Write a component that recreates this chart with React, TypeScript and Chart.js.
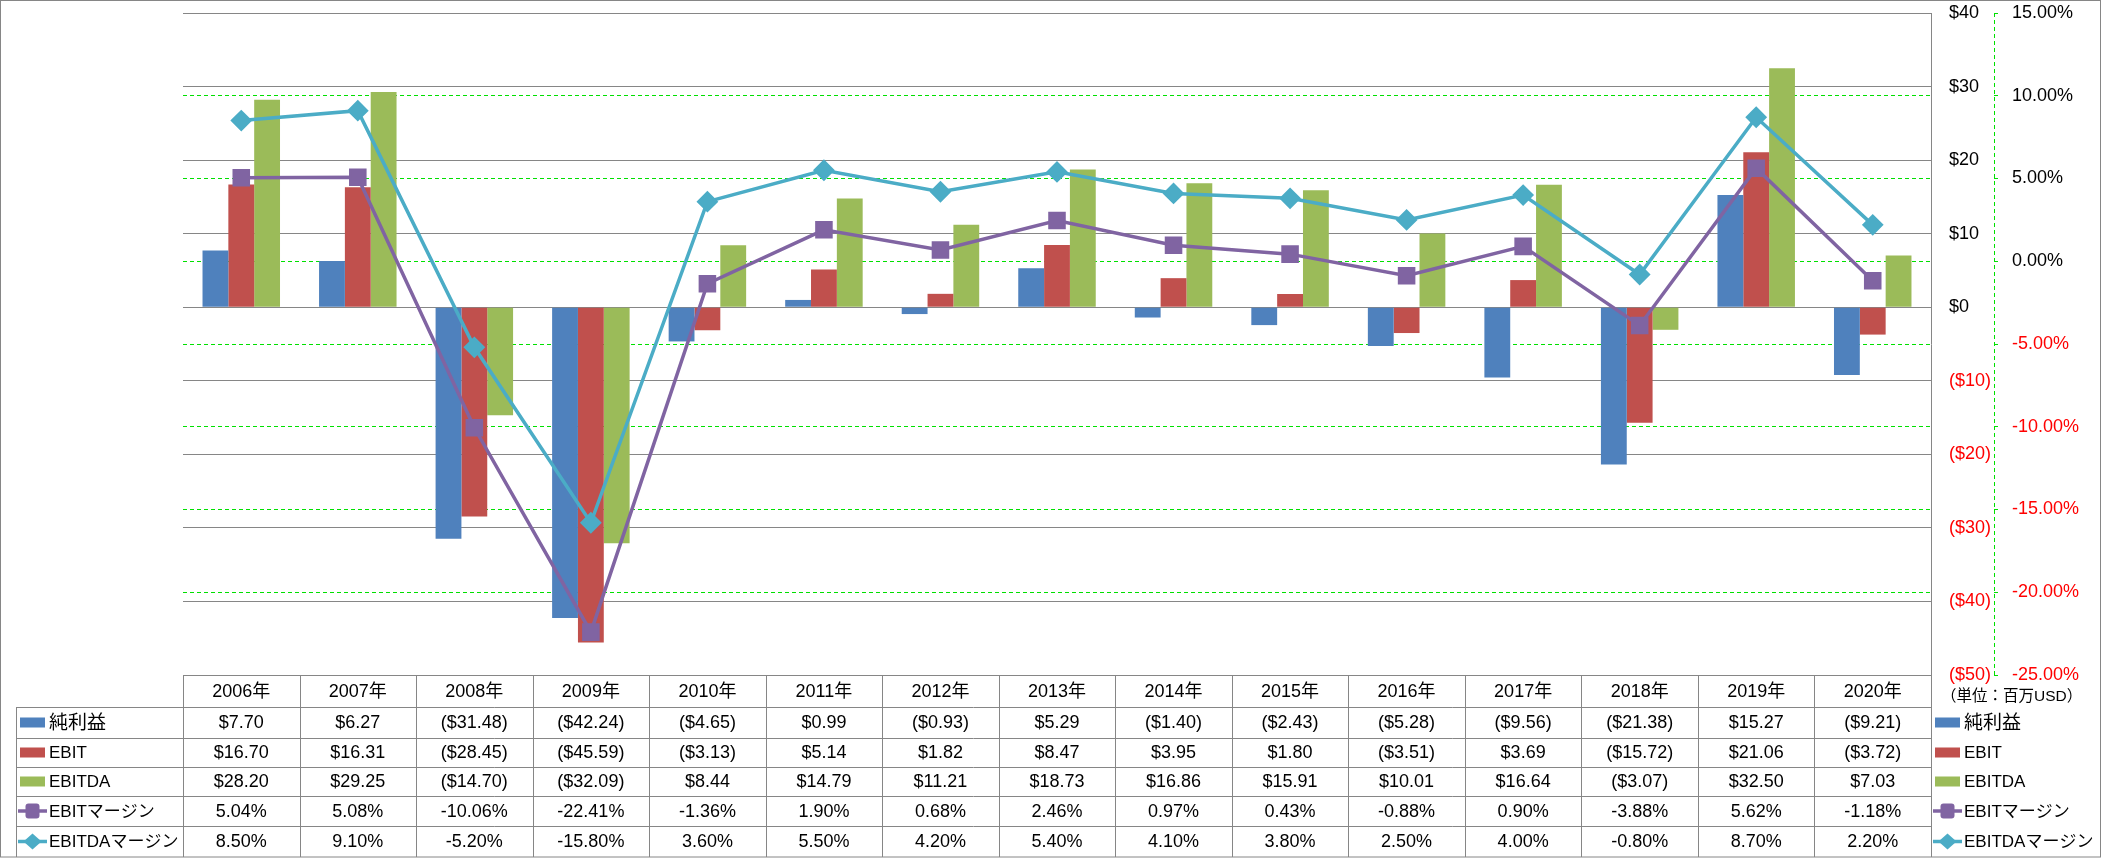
import React, { useEffect, useRef } from 'react';
import { Chart, registerables } from 'chart.js';

Chart.register(...registerables);

const categories = ['2006年', '2007年', '2008年', '2009年', '2010年', '2011年', '2012年', '2013年', '2014年', '2015年', '2016年', '2017年', '2018年', '2019年', '2020年'];
const netIncome = [7.70, 6.27, -31.48, -42.24, -4.65, 0.99, -0.93, 5.29, -1.40, -2.43, -5.28, -9.56, -21.38, 15.27, -9.21];
const ebit = [16.70, 16.31, -28.45, -45.59, -3.13, 5.14, 1.82, 8.47, 3.95, 1.80, -3.51, 3.69, -15.72, 21.06, -3.72];
const ebitda = [28.20, 29.25, -14.70, -32.09, 8.44, 14.79, 11.21, 18.73, 16.86, 15.91, 10.01, 16.64, -3.07, 32.50, 7.03];
const ebitMargin = [5.04, 5.08, -10.06, -22.41, -1.36, 1.90, 0.68, 2.46, 0.97, 0.43, -0.88, 0.90, -3.88, 5.62, -1.18];
const ebitdaMargin = [8.50, 9.10, -5.20, -15.80, 3.60, 5.50, 4.20, 5.40, 4.10, 3.80, 2.50, 4.00, -0.80, 8.70, 2.20];
const seriesNames = ['純利益', 'EBIT', 'EBITDA', 'EBITマージン', 'EBITDAマージン'];
const unitLabel = '（単位：百万USD）';

const C_BLUE = '#4F81BD';
const C_RED = '#C0504D';
const C_GREEN = '#9BBB59';
const C_PURPLE = '#8064A2';
const C_CYAN = '#4BACC6';
const GRID = '#868686';
const DASH_GREEN = '#00e000';
const FAMILY = '"Liberation Sans", "Noto Sans CJK JP", sans-serif';
const FONT_SIZE = 18;

const fmtMoney = (v: number) => (v < 0 ? `($${(-v).toFixed(2)})` : `$${v.toFixed(2)}`);
const fmtMoneyTick = (v: number) => (v < 0 ? `($${-v})` : `$${v}`);
const fmtPct = (v: number) => `${v.toFixed(2)}%`;

function drawKey(ctx: CanvasRenderingContext2D, kind: number, x: number, y: number) {
  ctx.save();
  if (kind < 3) {
    ctx.fillStyle = [C_BLUE, C_RED, C_GREEN][kind];
    ctx.fillRect(x, y - 5, 25, 10);
  } else {
    const col = kind === 3 ? C_PURPLE : C_CYAN;
    ctx.strokeStyle = col;
    ctx.lineWidth = 3.5;
    ctx.beginPath();
    ctx.moveTo(x - 2, y);
    ctx.lineTo(x + 27, y);
    ctx.stroke();
    ctx.fillStyle = col;
    const cx = x + 12.5;
    if (kind === 3) {
      ctx.beginPath();
      ctx.roundRect(cx - 7, y - 7.5, 14, 15, 3);
      ctx.fill();
    } else {
      ctx.beginPath();
      ctx.moveTo(cx, y - 8);
      ctx.lineTo(cx + 9, y);
      ctx.lineTo(cx, y + 8);
      ctx.lineTo(cx - 9, y);
      ctx.closePath();
      ctx.fill();
    }
  }
  ctx.restore();
}

const tablePlugin = {
  id: 'dataTable',
  afterDraw(chart: any) {
    const ctx: CanvasRenderingContext2D = chart.ctx;
    const xs = chart.scales.x;
    const area = chart.chartArea;
    const n = categories.length;
    const half = (xs.getPixelForValue(1) - xs.getPixelForValue(0)) / 2;
    const top = Math.round(area.bottom);
    const headerBottom = top + 32;
    const rowLines = [headerBottom, headerBottom + 31, headerBottom + 60, headerBottom + 89, headerBottom + 119];
    const tableBottom = 857;
    const leftEdge = 16;
    const right = Math.round(area.right);
    ctx.save();
    ctx.strokeStyle = GRID;
    ctx.lineWidth = 1;
    ctx.beginPath();
    ctx.moveTo(area.left, top + 0.5);
    ctx.lineTo(right, top + 0.5);
    rowLines.forEach((ry) => {
      ctx.moveTo(leftEdge, ry + 0.5);
      ctx.lineTo(right, ry + 0.5);
    });
    ctx.moveTo(leftEdge + 0.5, headerBottom);
    ctx.lineTo(leftEdge + 0.5, tableBottom);
    for (let i = 0; i <= n; i++) {
      const bx = i < n ? xs.getPixelForValue(i) - half : xs.getPixelForValue(n - 1) + half;
      ctx.moveTo(Math.round(bx) + 0.5, top);
      ctx.lineTo(Math.round(bx) + 0.5, tableBottom);
    }
    ctx.stroke();

    ctx.fillStyle = '#000';
    ctx.font = `${FONT_SIZE}px ${FAMILY}`;
    ctx.textAlign = 'center';
    ctx.textBaseline = 'middle';
    const headerMid = (top + headerBottom) / 2 + 1;
    categories.forEach((c, i) => ctx.fillText(c, xs.getPixelForValue(i), headerMid));
    const rowBounds = [headerBottom, ...rowLines.slice(1), tableBottom];
    const rows = [netIncome.map(fmtMoney), ebit.map(fmtMoney), ebitda.map(fmtMoney), ebitMargin.map(fmtPct), ebitdaMargin.map(fmtPct)];
    rows.forEach((vals, r) => {
      const my = (rowBounds[r] + rowBounds[r + 1]) / 2 + 1;
      vals.forEach((t, i) => ctx.fillText(t, xs.getPixelForValue(i), my));
    });

    ctx.textAlign = 'left';
    const rightX = right + 4;
    seriesNames.forEach((name, r) => {
      const my = (rowBounds[r] + rowBounds[r + 1]) / 2;
      drawKey(ctx, r, 20, my);
      drawKey(ctx, r, rightX, my);
      ctx.fillStyle = '#000';
      const kanjiOnly = !/[A-Za-z]/.test(name);
      ctx.font = `${kanjiOnly ? 19 : 17}px ${FAMILY}`;
      ctx.fillText(name, 49, my + 1);
      ctx.fillText(name, rightX + 29, my + 1);
    });
    ctx.font = `15.5px ${FAMILY}`;
    ctx.fillText(unitLabel, right + 10, headerMid + 5);

    const y1 = chart.scales.y1;
    ctx.strokeStyle = DASH_GREEN;
    ctx.setLineDash([4, 3]);
    ctx.beginPath();
    ctx.moveTo(Math.round(y1.left) + 0.5, area.top);
    ctx.lineTo(Math.round(y1.left) + 0.5, area.bottom);
    ctx.stroke();
    ctx.setLineDash([]);

    ctx.strokeStyle = GRID;
    ctx.strokeRect(0.5, 0.5, chart.width - 1, chart.height - 1.5);
    ctx.restore();
  },
};

export default function App() {
  const ref = useRef<HTMLCanvasElement | null>(null);
  useEffect(() => {
    if (!ref.current) return;
    const tickColor = (ctx: any) => (ctx.tick && ctx.tick.value < 0 ? '#ff0000' : '#000000');
    const chart = new Chart(ref.current, {
      type: 'bar',
      data: {
        labels: categories,
        datasets: [
          { type: 'line', label: seriesNames[4], data: ebitdaMargin, yAxisID: 'y1', borderColor: C_CYAN, backgroundColor: C_CYAN, borderWidth: 3.5, pointStyle: 'rectRot', pointRadius: 9.5, pointBorderWidth: 2, pointBorderColor: C_CYAN, pointBackgroundColor: C_CYAN, tension: 0, order: 0 } as any,
          { type: 'line', label: seriesNames[3], data: ebitMargin, yAxisID: 'y1', borderColor: C_PURPLE, backgroundColor: C_PURPLE, borderWidth: 3.5, pointStyle: 'rect', pointRadius: 11, pointBorderWidth: 2, pointBorderColor: C_PURPLE, pointBackgroundColor: C_PURPLE, tension: 0, order: 1 } as any,
          { label: seriesNames[0], data: netIncome, yAxisID: 'y', backgroundColor: C_BLUE, order: 2 },
          { label: seriesNames[1], data: ebit, yAxisID: 'y', backgroundColor: C_RED, order: 2 },
          { label: seriesNames[2], data: ebitda, yAxisID: 'y', backgroundColor: C_GREEN, order: 2 },
        ],
      },
      options: {
        animation: false,
        responsive: false,
        devicePixelRatio: 1,
        layout: { padding: { left: 183, top: 13, right: 0, bottom: 183 } },
        datasets: { bar: { categoryPercentage: 0.665, barPercentage: 1 } },
        plugins: { legend: { display: false }, tooltip: { enabled: false } },
        scales: {
          x: { display: false, offset: true },
          y: {
            position: 'right', weight: 0, min: -50, max: 40,
            ticks: { stepSize: 10, padding: 18, color: tickColor, font: { family: FAMILY, size: FONT_SIZE }, callback: (v: any) => fmtMoneyTick(Number(v)) },
            grid: { color: GRID, lineWidth: 1, drawTicks: false },
            border: { display: true, color: GRID, width: 1 },
            afterFit: (s: any) => { s.width = 63; s.paddingTop = 0; s.paddingBottom = 0; },
          },
          y1: {
            position: 'right', weight: 1, min: -25, max: 15,
            ticks: { stepSize: 5, padding: 14, color: tickColor, font: { family: FAMILY, size: FONT_SIZE }, callback: (v: any) => fmtPct(Number(v)) },
            grid: {
              color: (ctx: any) => (ctx.tick && (ctx.tick.value === 15 || ctx.tick.value === -25) ? 'rgba(0,0,0,0)' : DASH_GREEN),
              lineWidth: 1, drawTicks: true, tickLength: 4, tickColor: DASH_GREEN, tickBorderDash: [],
            },
            border: { display: false, dash: [4, 3] },
            afterFit: (s: any) => { s.width = 107; s.paddingTop = 0; s.paddingBottom = 0; },
          },
        },
      } as any,
      plugins: [tablePlugin],
    });
    return () => chart.destroy();
  }, []);
  return (
    <div style={{ position: 'absolute', left: 0, top: 0, width: 2101, height: 858, background: '#fff' }}>
      <canvas ref={ref} width={2101} height={858} />
    </div>
  );
}
